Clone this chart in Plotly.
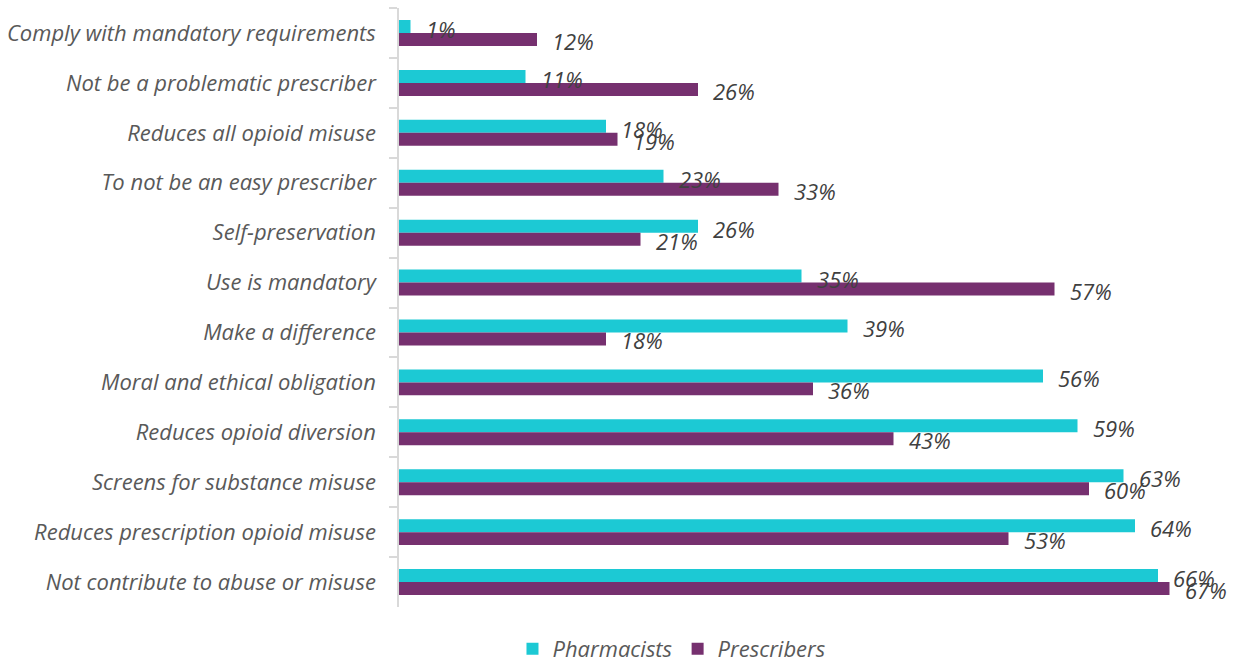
import plotly.graph_objects as go

categories = [
    "Comply with mandatory requirements",
    "Not be a problematic prescriber",
    "Reduces all opioid misuse",
    "To not be an easy prescriber",
    "Self-preservation",
    "Use is mandatory",
    "Make a difference",
    "Moral and ethical obligation",
    "Reduces opioid diversion",
    "Screens for substance misuse",
    "Reduces prescription opioid misuse",
    "Not contribute to abuse or misuse",
]
pharmacists = [1, 11, 18, 23, 26, 35, 39, 56, 59, 63, 64, 66]
prescribers = [12, 26, 19, 33, 21, 57, 18, 36, 43, 60, 53, 67]

C_PH = "#1CC9D4"
C_PR = "#76306F"
FONT = "Open Sans"

fig = go.Figure()
fig.add_trace(go.Bar(y=categories, x=pharmacists, name="Pharmacists", orientation="h",
                     marker=dict(color=C_PH, line=dict(width=0))))
fig.add_trace(go.Bar(y=categories, x=prescribers, name="Prescribers", orientation="h",
                     marker=dict(color=C_PR, line=dict(width=0))))

annotations = []
for cat, v in zip(categories, pharmacists):
    annotations.append(dict(x=v, y=cat, xref="x", yref="y", text=f"<i>{v}%</i>",
                            showarrow=False, xanchor="left", yanchor="middle",
                            xshift=13, yshift=4,
                            font=dict(family=FONT, size=22, color="#404040")))
for cat, v in zip(categories, prescribers):
    annotations.append(dict(x=v, y=cat, xref="x", yref="y", text=f"<i>{v}%</i>",
                            showarrow=False, xanchor="left", yanchor="middle",
                            xshift=13, yshift=-8,
                            font=dict(family=FONT, size=22, color="#404040")))

fig.update_layout(
    width=1233, height=670,
    margin=dict(l=399, r=6, t=8, b=63),
    paper_bgcolor="white", plot_bgcolor="white",
    barmode="group", bargap=0.48, bargroupgap=0,
    font=dict(family=FONT, size=22, color="#595959"),
    annotations=annotations,
    legend=dict(orientation="h", x=0.545, xref="container", xanchor="center",
                y=0.0, yref="container", yanchor="bottom",
                font=dict(family=FONT, size=22, color="#595959", style="italic"),
                itemwidth=30, traceorder="normal", tracegroupgap=0),
    xaxis=dict(range=[0, 72], visible=False, showgrid=False, zeroline=False),
    yaxis=dict(autorange="reversed", type="category",
               showline=True, linecolor="#D9D9D9", linewidth=1.5,
               ticks="outside", tickson="boundaries", ticklen=8, tickcolor="#D9D9D9",
               tickwidth=1.5, ticklabelstandoff=17,
               tickfont=dict(family=FONT, size=22, color="#595959", style="italic"),
               showgrid=False, zeroline=False),
)

fig.write_html("out.html")
